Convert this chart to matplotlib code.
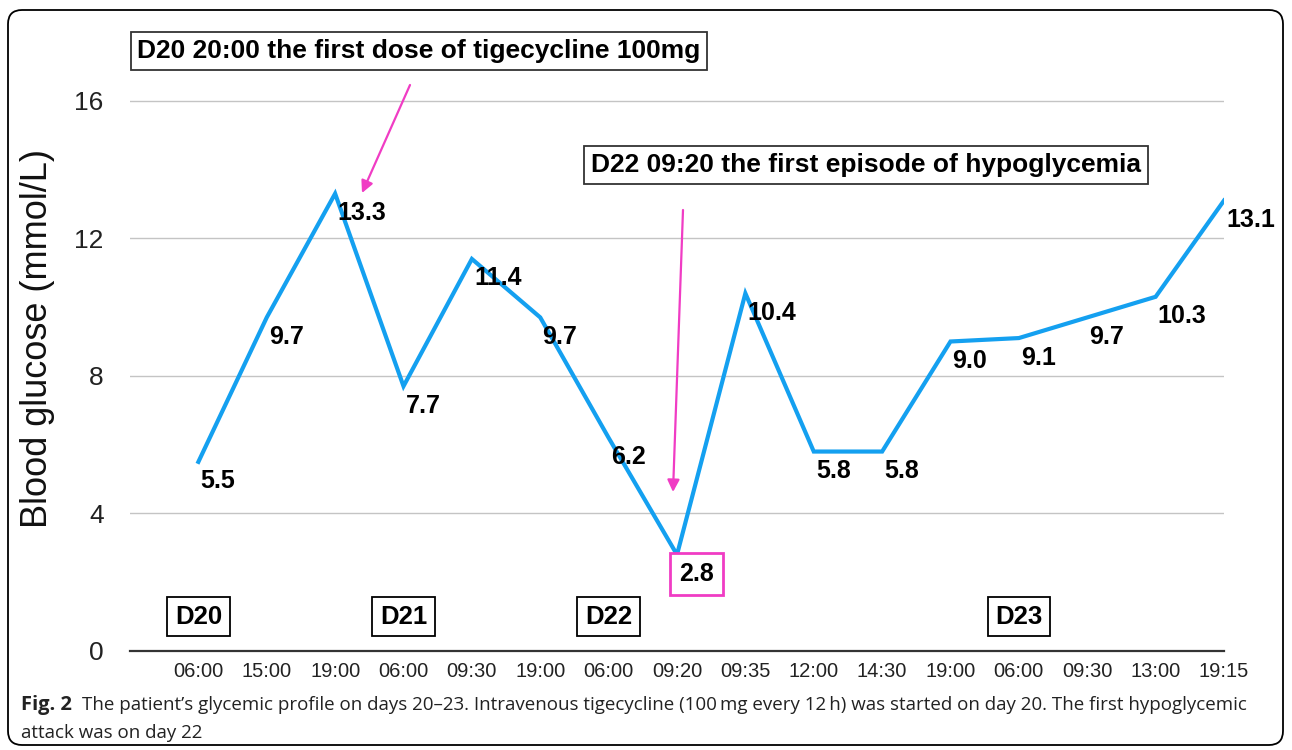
import matplotlib.pyplot as plt
from matplotlib.patches import FancyBboxPatch
from matplotlib.transforms import IdentityTransform

plt.rcParams['font.family'] = ['Liberation Sans', 'DejaVu Sans']

times = ['06:00', '15:00', '19:00', '06:00', '09:30', '19:00', '06:00', '09:20',
         '09:35', '12:00', '14:30', '19:00', '06:00', '09:30', '13:00', '19:15']
glucose = [5.5, 9.7, 13.3, 7.7, 11.4, 9.7, 6.2, 2.8, 10.4, 5.8, 5.8, 9.0, 9.1, 9.7, 10.3, 13.1]
day_names = ['D20', 'D21', 'D22', 'D23']
day_pos = [0, 3, 6, 12]

blue = '#14a0f0'
pink = '#f03cc4'

W, H = 1292, 750
fig = plt.figure(figsize=(W / 100, H / 100), dpi=100)
ax = fig.add_axes([130 / W, 1 - 651 / H, 1094 / W, (651 - 32) / H])

x = list(range(len(glucose)))
ax.plot(x, glucose, color=blue, lw=3, solid_joinstyle='miter', zorder=3)

ax.set_xlim(-1, len(glucose) - 1)
ax.set_ylim(0, 18)
ax.set_yticks([0, 4, 8, 12, 16])
ax.set_xticks(x)
ax.set_xticklabels(times, fontsize=14.5, color='#222222')
ax.tick_params(axis='y', labelsize=19, length=0, pad=19, labelcolor='#222222')
ax.tick_params(axis='x', length=0, pad=8)
ax.grid(axis='y', color='#c4c4c4', lw=1)
ax.set_axisbelow(True)
for s in ['top', 'right', 'left']:
    ax.spines[s].set_visible(False)
ax.spines['bottom'].set_color('#333333')
ax.spines['bottom'].set_linewidth(1.6)
ax.spines['bottom'].set_zorder(4)

# value labels
for i, v in enumerate(glucose):
    box = None
    if v == 2.8:
        box = dict(boxstyle='square,pad=0.35', fc='white', ec=pink, lw=2)
    ax.annotate(f'{v:.1f}', (i, v), xytext=(1.5, -14), textcoords='offset points',
                ha='left', va='center', fontsize=18, fontweight='bold', bbox=box, zorder=5)

# day boxes
for name, p in zip(day_names, day_pos):
    ax.text(p, 1.0, name, ha='center', va='center', fontsize=18.5, fontweight='bold',
            bbox=dict(boxstyle='square,pad=0.3', fc='white', ec='black', lw=1.3))

# event boxes + arrows (figure pixel positions)
ev_box = dict(boxstyle='square,pad=0.26', fc='white', ec='#333333', lw=1.3)
fig.text(419 / W, 1 - 51 / H, 'D20 20:00 the first dose of tigecycline 100mg',
         ha='center', va='center', fontsize=19, fontweight='bold', bbox=ev_box)
fig.text(866 / W, 1 - 165 / H, 'D22 09:20 the first episode of hypoglycemia',
         ha='center', va='center', fontsize=19, fontweight='bold', bbox=ev_box)
arr = dict(arrowstyle='-|>', color=pink, lw=1.6, mutation_scale=18, shrinkA=0, shrinkB=0)
ax.annotate('', xy=(362, H - 193), xytext=(410, H - 85), xycoords='figure pixels',
            textcoords='figure pixels', arrowprops=arr)
ax.annotate('', xy=(673, H - 492), xytext=(683, H - 210), xycoords='figure pixels',
            textcoords='figure pixels', arrowprops=arr)

fig.text(38 / W, 1 - 338 / H, 'Blood glucose (mmol/L)', rotation=90, ha='center',
         va='center', fontsize=26, color='#111111')

# caption
cap_font = ['Open Sans', 'DejaVu Sans']
fig.text(21 / W, 1 - 705 / H, 'Fig. 2', fontsize=14.5, fontweight='bold', family=cap_font,
         va='center', ha='left', color='#222222')
fig.text(82 / W, 1 - 705 / H,
         'The patient\u2019s glycemic profile on days 20\u201323. Intravenous tigecycline '
         '(100\u2009mg every 12\u2009h) was started on day 20. The first hypoglycemic',
         fontsize=13.5, family=cap_font, va='center', ha='left', color='#222222')
fig.text(21 / W, 1 - 733 / H, 'attack was on day 22', fontsize=13.5, family=cap_font,
         va='center', ha='left', color='#222222')

# rounded frame
frame = FancyBboxPatch((8, 5), 1275, 735, boxstyle='round,pad=0,rounding_size=14',
                       transform=IdentityTransform(), fc='none', ec='black', lw=1.3)
fig.patches.append(frame)

fig.savefig('out.png', dpi=100)
